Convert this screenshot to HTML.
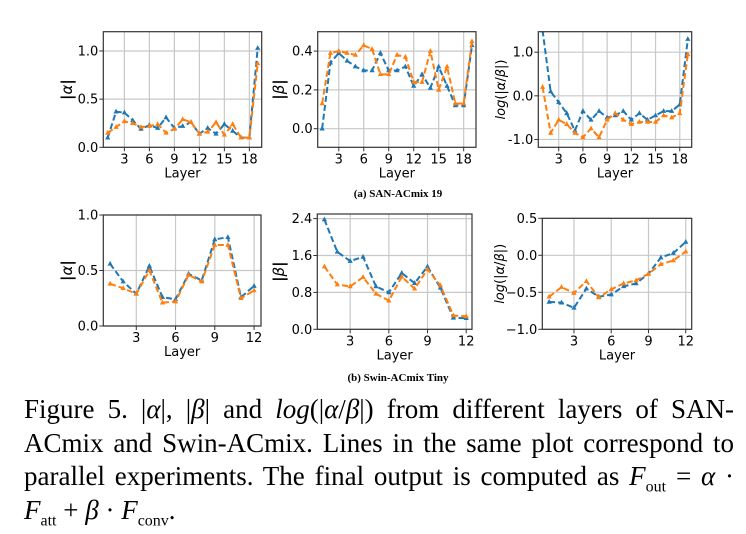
<!DOCTYPE html>
<html><head><meta charset="utf-8"><style>
body{margin:0;background:#fff;width:746px;height:534px;overflow:hidden;position:relative}
svg{position:absolute;left:0;top:0}
.cap{position:absolute;left:24px;width:710px;font-family:"Liberation Serif",serif;font-size:27px;line-height:33.5px;color:#000;top:393px}
.ln{text-align:justify;text-align-last:justify;white-space:nowrap;height:33.5px}
.ln.last{text-align-last:left}
.cap sub{font-size:16px;line-height:0}
.sub{font-family:"Liberation Serif",serif;font-weight:bold;font-size:11px}
</style></head><body>
<svg id="fig" width="746" height="534"></svg>
<div class="cap">
<div class="ln">Figure 5. |<i>α</i>|, |<i>β</i>| and <i>log</i>(|<i>α</i>/<i>β</i>|) from different layers of SAN-</div>
<div class="ln">ACmix and Swin-ACmix. Lines in the same plot correspond to</div>
<div class="ln">parallel experiments. The final output is computed as <i>F</i><sub>out</sub> = <i>α</i> ·</div>
<div class="ln last"><i>F</i><sub>att</sub> + <i>β</i> · <i>F</i><sub>conv</sub>.</div>
</div>
<script>
const san_alpha_a=[0.1,0.37,0.36,0.28,0.19,0.23,0.2,0.31,0.2,0.22,0.26,0.14,0.2,0.14,0.24,0.17,0.1,0.1,1.03];
const san_alpha_b=[0.15,0.21,0.27,0.25,0.21,0.22,0.24,0.15,0.19,0.29,0.26,0.14,0.16,0.26,0.13,0.24,0.1,0.1,0.87];
const san_beta_a=[0.0,0.34,0.39,0.35,0.32,0.30,0.30,0.39,0.30,0.30,0.32,0.22,0.28,0.21,0.32,0.22,0.12,0.12,0.43];
const san_beta_b=[0.13,0.39,0.40,0.39,0.38,0.43,0.41,0.28,0.28,0.38,0.37,0.24,0.24,0.40,0.20,0.32,0.13,0.13,0.45];
const san_log_a=[1.5,0.1,-0.15,-0.4,-0.8,-0.35,-0.55,-0.35,-0.5,-0.45,-0.35,-0.55,-0.4,-0.55,-0.45,-0.35,-0.35,-0.2,1.3];
const san_log_b=[0.2,-0.85,-0.55,-0.65,-0.85,-0.95,-0.75,-0.95,-0.55,-0.4,-0.55,-0.65,-0.6,-0.6,-0.6,-0.45,-0.5,-0.4,0.95];
const swin_alpha_a=[0.56,0.40,0.29,0.54,0.26,0.24,0.47,0.41,0.78,0.80,0.26,0.36];
const swin_alpha_b=[0.38,0.34,0.29,0.50,0.21,0.22,0.46,0.40,0.73,0.73,0.25,0.32];
const swin_beta_a=[2.38,1.68,1.48,1.57,0.93,0.80,1.22,1.00,1.36,0.90,0.25,0.24];
const swin_beta_b=[1.36,0.97,0.93,1.13,0.77,0.62,1.14,0.88,1.30,0.95,0.30,0.28];
const swin_log_a=[-0.63,-0.64,-0.71,-0.45,-0.56,-0.53,-0.42,-0.38,-0.25,-0.03,0.03,0.18];
const swin_log_b=[-0.56,-0.43,-0.51,-0.35,-0.57,-0.46,-0.38,-0.34,-0.25,-0.12,-0.07,0.05];
const san_xticks=[3,6,9,12,15,18];
const swin_xticks=[3,6,9,12];
const alpha1_yticks=["0.0","0.5","1.0"];
const beta1_yticks=["0.0","0.2","0.4"];
const log1_yticks=["-1.0","0.0","1.0"];
const alpha2_yticks=["0.0","0.5","1.0"];
const beta2_yticks=["0.0","0.8","1.6","2.4"];
const log2_yticks=["\u22121.0","\u22120.5","0.0","0.5"];

const NS="http://www.w3.org/2000/svg";
const svg=document.getElementById('fig');
function mk(tag,attrs,parent){const e=document.createElementNS(NS,tag);for(const k in attrs)e.setAttribute(k,attrs[k]);(parent||svg).appendChild(e);return e;}
let clipN=0;
function plot(o){
  const g=mk('g',{});
  
  
  const sx=v=>o.L+(v-o.xmin)/(o.xmax-o.xmin)*(o.R-o.L);
  const sy=v=>o.B-(v-o.ymin)/(o.ymax-o.ymin)*(o.B-o.T);
  o.xt.forEach(t=>{const l=mk('line',{x1:sx(t),x2:sx(t),y1:o.T,y2:o.B,stroke:'#c8c8c8','stroke-width':1.2},g);
    });
  o.yt.forEach(t=>{const v=parseFloat(t.replace('\u2212','-'));const l=mk('line',{x1:o.L,x2:o.R,y1:sy(v),y2:sy(v),stroke:'#c8c8c8','stroke-width':1.2},g);
    });
  const cid='c'+(clipN++);
  const cp=mk('clipPath',{id:cid},g);mk('rect',{x:o.L,y:o.T,width:o.R-o.L,height:o.B-o.T},cp);
  [[o.a,'#1f77b4','series-run-1'],[o.b,'#ff7f0e','series-run-2']].forEach(([arr,c,nm])=>{
    const sg=mk('g',{'clip-path':'url(#'+cid+')'},g);
    
    const pts=arr.map((v,i)=>sx(i+1)+','+sy(v)).join(' ');
    mk('polyline',{points:pts,fill:'none',stroke:c,'stroke-width':2,'stroke-dasharray':'6,3'},sg);
    arr.forEach((v,i)=>{const x=sx(i+1),y=sy(v);
      const m=mk('polygon',{points:`${x},${y-3} ${x-2.6},${y+1.8} ${x+2.6},${y+1.8}`,fill:c},sg);
      });
  });
  const fr=mk('rect',{x:o.L,y:o.T,width:o.R-o.L,height:o.B-o.T,fill:'none',stroke:'#333','stroke-width':1.2},g);
  
  o.xt.forEach(t=>{mk('line',{x1:sx(t),x2:sx(t),y1:o.B,y2:o.B+4,stroke:'#333'},g);
    const tx=mk('text',{x:sx(t),y:o.B+16,'text-anchor':'middle','font-size':13,'font-family':'DejaVu Sans, sans-serif'},g);tx.textContent=t;
    });
  o.yt.forEach(t=>{const v=parseFloat(t.replace('\u2212','-'));mk('line',{x1:o.L-4,x2:o.L,y1:sy(v),y2:sy(v),stroke:'#333'},g);
    const tx=mk('text',{x:o.L-5,y:sy(v)+4.5,'text-anchor':'end','font-size':13,'font-family':'DejaVu Sans, sans-serif'},g);tx.textContent=t;
    });
  const xl=mk('text',{x:(o.L+o.R)/2,y:o.B+30,'text-anchor':'middle','font-size':13,'font-family':'DejaVu Sans, sans-serif'},g);xl.textContent='Layer';
  
  const yx=o.ylx,yy=(o.T+o.B)/2;
  const yl=mk('text',{x:yx,y:yy,transform:`rotate(-90 ${yx} ${yy})`,'text-anchor':'middle','font-size':o.ylog?13:15,'font-family':'DejaVu Sans, sans-serif','font-weight':o.ylog?'normal':'bold'},g);
  
  if(o.ylog){yl.innerHTML='<tspan font-style="italic">log</tspan>(|<tspan font-style="italic">α</tspan>/<tspan font-style="italic">β</tspan>|)';}
  else{yl.innerHTML='|<tspan font-style="italic" font-weight="normal">'+o.ysym+'</tspan>|';}
}
plot({name:'san-alpha-chart',L:103.3,R:261.7,T:31.7,B:147.3,xmin:0.47,xmax:19.48,ymin:0,ymax:1.2,a:san_alpha_a,b:san_alpha_b,xt:san_xticks,yt:alpha1_yticks,ylx:72,ysym:'α'});
plot({name:'san-beta-chart',L:317.7,R:476,T:31.7,B:147.3,xmin:0.47,xmax:19.48,ymin:-0.096,ymax:0.5,a:san_beta_a,b:san_beta_b,xt:san_xticks,yt:beta1_yticks,ylx:284,ysym:'β'});
plot({name:'san-log-ratio-chart',L:538.3,R:691.7,T:31.7,B:147.3,xmin:0.47,xmax:19.48,ymin:-1.18,ymax:1.47,a:san_log_a,b:san_log_b,xt:san_xticks,yt:log1_yticks,ylx:505,ylog:true});
plot({name:'swin-alpha-chart',L:103.3,R:261,T:215,B:326,xmin:0.48,xmax:12.53,ymin:0,ymax:1,a:swin_alpha_a,b:swin_alpha_b,xt:swin_xticks,yt:alpha2_yticks,ylx:72,ysym:'α'});
plot({name:'swin-beta-chart',L:317.3,R:472,T:214,B:329.3,xmin:0.45,xmax:12.45,ymin:0,ymax:2.5,a:swin_beta_a,b:swin_beta_b,xt:swin_xticks,yt:beta2_yticks,ylx:284,ysym:'β'});
plot({name:'swin-log-ratio-chart',L:542.3,R:691.7,T:218.3,B:329.3,xmin:0.45,xmax:12.48,ymin:-1,ymax:0.5,a:swin_log_a,b:swin_log_b,xt:swin_xticks,yt:log2_yticks,ylx:504,ylog:true});
const s1=mk('text',{x:398,y:197,'text-anchor':'middle',class:'sub'});s1.textContent='(a) SAN-ACmix 19';

const s2=mk('text',{x:398,y:381,'text-anchor':'middle',class:'sub'});s2.textContent='(b) Swin-ACmix Tiny';

</script>
</body></html>
